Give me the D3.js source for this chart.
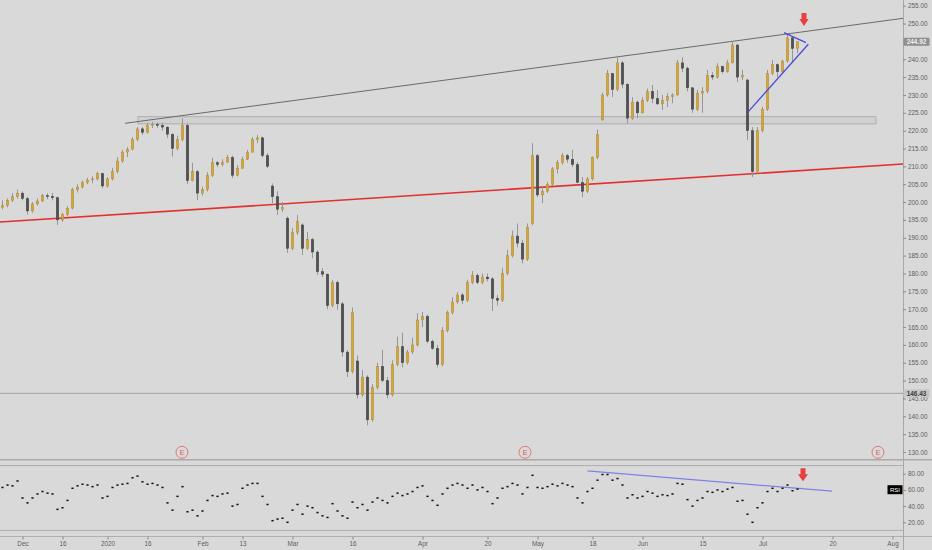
<!DOCTYPE html>
<html><head><meta charset="utf-8">
<script src="https://cdn.jsdelivr.net/npm/d3@7"></script>
<style>html,body{margin:0;padding:0;background:#d9d9d9;}svg{display:block;font-family:"Liberation Sans",Arial,sans-serif;}</style>
</head><body><svg id="c" width="932" height="550"></svg>
<script>
// ---- data (bar index based, as on the original chart) ----
const opens = [
198.5,199,200.5,201.5,202.5,201,197.5,199.5,200.3,201.8,
201.6,201.2,195,196.5,198.3,203.5,204.2,205.5,206.2,206.5,
208,204.5,206.5,208.5,211.5,214,214.8,217.5,220.5,219.5,
221.5,221.8,221.5,221,219,215,217.5,221.5,206,208.5,
202.5,203.5,207.5,211,210.5,211.2,212.5,207.5,209.5,212,
214,217.5,218,213,204.5,201.5,198,195.5,187,191.5,
193.6,187,189.5,186,180.5,179.8,171,177.5,171.5,158,
152.5,155.5,146,151,139,148,154,150,146,154.5,
159.5,155,158,160,167,168,161,159,154.5,164,
169,172,174,172.5,177.5,179.5,177.5,179,178.5,173,
172.5,180,185,190.5,188.5,184,194,213,202,203,
205,209.3,211,213,212,210.5,205.5,203,206.5,212.5,
223,230,236,231.5,239,233,223.5,228,225,228.5,
231,229,227.5,228.5,229.5,230,239,237.5,232,226,
230.5,231,235.5,235,238,236.5,239,244,235,234.2,
220,208.5,220,226,236,238.5,236.5,239.5,246,243];
const highs = [
200.5,201,202.5,203.5,203,201.5,200,201,202.3,202.5,
202.6,201.5,197,198.8,204,205,206,206.8,207.2,208.5,
208.2,207,209.6,212.6,214.6,215.4,218.2,221,221,222.2,
222.5,222.3,222.2,221.2,219.3,218.6,223.5,222,211,209,
204.3,208.4,212.4,211.5,212,213.2,213,210.4,212.7,214.6,
218.2,218.8,218.3,213.7,205.2,203,200,196,192.7,196.4,
194,191.6,190,186.5,181.5,180,178.2,178,172,158.5,
170.5,157,153,151.5,149,155,158.6,151,155.7,162.3,
163.4,158.6,162,168.9,169.2,168.5,161.5,160,165,169.6,
173.4,174.8,174.5,178.2,180.7,180,180,180,179,174,
181.6,186.6,192,194,189.4,194,216.5,213.5,204.3,205.6,
209.8,211.8,213.7,213.5,214.6,211.2,207,207,212.8,220.3,
230.6,237,236.2,241,239.5,233.3,229.4,228.5,229.4,231.8,
232.8,231.4,230,230.5,230.5,239.8,240.6,238,232.2,231.4,
232.2,237,236.4,238.9,238.2,239.8,245,244.2,237,234.5,
221,221,226.7,237,239.8,238.8,239.8,247.3,246.2,245];
const lows = [
198,198.5,200,201,200.5,196.5,197,199,200,200.8,
200.5,193.6,194.5,196,198,202.7,203.8,205,205.3,206,
203.9,204,206,208,211,212.6,214.5,217,218.8,219.2,
220.7,220.8,220,218,212.8,214.5,217,205,205.8,200.5,
201.8,203,207,209.8,210,211,206.7,207.2,209.2,211.8,
213.8,216.5,212.5,209.5,199.7,196.4,197.2,185.8,186.5,190.8,
185.2,186.5,184.3,179.6,179,170,170.5,169.8,156.7,151,
152,145,145.5,137.5,138.5,147.5,149.5,145,145.5,154,
153.7,154.5,157.5,159.5,165,160.5,158.6,153.7,154,163.5,
168.5,171.5,171.5,172,177,177,177,177.8,169.5,171,
172,179.5,184.5,187.3,182.8,183.5,193.5,201.4,199.7,202.5,
204.5,208,210.5,211,209.8,205.3,201.4,202.5,206,212,
222.8,229.5,229.4,231,231.9,222,223,223.5,224.8,228,
227.7,227.2,225.8,226.6,227.7,229.8,236.4,231,225,225.5,
225,230.5,234.2,234.5,236,236.2,238.8,233.6,234.2,217.4,
207,208,219.5,225.5,235.5,235,236,239,239,241.7];
const closes = [
199,200.5,201.5,202.5,201,197.5,199.5,200.3,201.8,201.6,
201.2,195,196.5,198.3,203.5,204.2,205.5,206.2,206.5,208,
204.5,206.5,208.5,211.5,214,214.8,217.5,220.5,219.5,221.5,
221.8,221.5,221,219,215,217.5,221.5,206,208.5,202.5,
203.5,207.5,211,210.5,211.2,212.5,207.5,209.5,212,214,
217.5,218,213,210,201.5,198,198.5,187,191.5,194.5,
187,189.5,186,180.5,179.8,171,177.5,171.5,158,152.5,
169,146,151,139,148,154,150,146,154.5,159.5,
155,158,160,167,168,161,159,154.5,164,169,
172,174,172.5,177.5,179.5,177.5,179,178.5,173,172.5,
180,185,190.5,188.5,184,193,213,202,203,205,
209.3,211,213,212,210.5,205.5,203,206.5,212.5,219,
230,236,231.5,239,233,223.5,228,225,228.5,231,
229,227.5,228.5,229.5,230,239,237.5,232,226,230.5,
231,235.5,235,238,236.5,239,244,235,235.5,220,
208.5,220,226,236,238.5,236.5,239.5,246,243,244.92];
const rsi = [
63,66,65,71,50,44,50,55,58,56,
55,36,38,47,62,65,67,66,64,66,
50,52,63,66,67,68,75,77,70,67,
68,66,63,44,35,52,64,33,35,28,
34,47,53,52,55,56,40,42,62,66,
68,68,52,42,22,24,25,20,35,42,
30,40,38,32,28,26,43,34,28,25,
45,38,42,35,45,50,47,44,52,56,
53,55,58,63,65,52,47,41,55,62,
66,68,66,62,66,60,63,58,43,50,
62,64,68,66,55,63,78,63,62,64,
67,65,68,66,64,50,44,58,62,72,
79,79,72,74,66,50,54,50,52,58,
56,52,54,53,55,68,67,48,40,47,
50,58,57,60,58,61,63,46,47,30,
20,38,44,58,62,58,62,66,59,61];
const timeLabels = ["Dec","16","2020","16","Feb","13","Mar","16","Apr","20","May","18","Jun","15","Jul","20","Aug"];
const timeLabelBars = [4,12,21,29,40,48,58,70,84,97,107,118,128,140,152,166,178];
const priceTicks = [130,135,140,145,150,155,160,165,170,175,180,185,190,195,200,205,210,215,220,225,230,235,240,245,250,255];
const rsiTicks = [20,40,60,80];
const rsiBands = [90,10];
const lastPrice = 244.92;
const markLevel = 146.43;
const earningsBars = [35.9,104.5,175.1];
const zoneBars = [27.1,174.7];
const zonePrices = [221.9,223.9];
const resistanceLine = [[24.5,222.06],[180.1,251.47]];
const supportLine = [[-0.5,194.4],[180.1,210.66]];
const wedgeLower = [[149.04,225.14],[161.16,244.19]];
const wedgeUpper = [[156.3,247.44],[160.7,244.64]];
const rsiTrend = [[117.0,83.4],[165.9,58.4]];
const mainArrow = [160.3,249.3];
const rsiArrow = [160.1,70.7];

// ---- layout ----
const W=932,H=550,AX=903;
const svg=d3.select("#c");
const x=d3.scaleLinear().domain([-0.5,180.1]).range([0,AX]);
const y=d3.scaleLinear().domain([130,255]).range([452,5.7]);
const yr=d3.scaleLinear().domain([20,80]).range([522.3,473.7]);

svg.append("rect").attr("width",W).attr("height",H).attr("fill","#d9d9d9");
const defs=svg.append("defs");
defs.append("clipPath").attr("id","cm").append("rect").attr("x",0).attr("y",0).attr("width",AX).attr("height",459);
defs.append("clipPath").attr("id","cr").append("rect").attr("x",0).attr("y",461).attr("width",AX).attr("height",75);

const main=svg.append("g").attr("clip-path","url(#cm)");
main.append("rect").attr("x",x(zoneBars[0])).attr("width",x(zoneBars[1])-x(zoneBars[0]))
 .attr("y",y(zonePrices[1])).attr("height",y(zonePrices[0])-y(zonePrices[1]))
 .attr("fill","rgba(0,0,0,0.035)").attr("stroke","#a4a4a4").attr("stroke-width",0.8);
main.append("line").attr("x1",0).attr("x2",AX).attr("y1",y(markLevel)).attr("y2",y(markLevel)).attr("stroke","#a2a2a2").attr("stroke-width",1);
const ln=d3.line().x(d=>x(d[0])).y(d=>y(d[1]));
main.append("path").attr("d",ln(supportLine)).attr("stroke","#e2302f").attr("stroke-width",1.6).attr("fill","none");
main.append("path").attr("d",ln(resistanceLine)).attr("stroke","#6a6a6a").attr("stroke-width",1).attr("fill","none");

const bars=d3.range(closes.length).map(i=>({i,o:opens[i],h:highs[i],l:lows[i],c:closes[i]}));
const cg=main.append("g");
cg.selectAll("line.w").data(bars).join("line").attr("class","w")
 .attr("x1",d=>x(d.i)).attr("x2",d=>x(d.i)).attr("y1",d=>y(d.h)).attr("y2",d=>y(d.l))
 .attr("stroke","#969696").attr("stroke-width",1);
cg.selectAll("rect.b").data(bars).join("rect").attr("class","b")
 .attr("x",d=>x(d.i)-1.25).attr("width",2.5)
 .attr("y",d=>y(Math.max(d.o,d.c))).attr("height",d=>Math.max(1,Math.abs(y(d.o)-y(d.c))))
 .attr("fill",d=>d.c>=d.o?"#d3a63c":"#505050")
 .attr("stroke",d=>d.c>=d.o?"#a8852e":"#3a3a3a").attr("stroke-width",0.4);

main.append("path").attr("d",ln(wedgeLower)).attr("stroke","#4b4bdc").attr("stroke-width",1.3).attr("fill","none");
main.append("path").attr("d",ln(wedgeUpper)).attr("stroke","#4b4bdc").attr("stroke-width",1.3).attr("fill","none");

function arrow(g,cx,ty,hw){
  const p=`M${cx-2.5},${ty-13}L${cx+2.5},${ty-13}L${cx+2.5},${ty-7}L${cx+hw},${ty-7}L${cx},${ty}L${cx-hw},${ty-7}L${cx-2.5},${ty-7}Z`;
  g.append("path").attr("d",p).attr("fill","#e8403e");
}
arrow(main,x(mainArrow[0]),y(mainArrow[1]),4.6);

const eg=svg.append("g");
earningsBars.forEach(b=>{
  eg.append("circle").attr("cx",x(b)).attr("cy",452.3).attr("r",6).attr("fill","none").attr("stroke","#e37a7a").attr("stroke-width",1);
  eg.append("text").attr("x",x(b)).attr("y",454.9).attr("text-anchor","middle").attr("font-size",7).attr("fill","#d95c5c").text("E");
});

svg.append("line").attr("x1",0).attr("x2",W).attr("y1",459.8).attr("y2",459.8).attr("stroke","#a9a9a9").attr("stroke-width",1.6);
rsiBands.forEach(v=>svg.append("line").attr("x1",0).attr("x2",AX).attr("y1",yr(v)).attr("y2",yr(v)).attr("stroke","#adadad").attr("stroke-width",1));
svg.append("line").attr("x1",0).attr("x2",W).attr("y1",536.5).attr("y2",536.5).attr("stroke","#b0b0b0").attr("stroke-width",1);

const rg=svg.append("g").attr("clip-path","url(#cr)");
rg.append("path").attr("d",d3.line().x(d=>x(d[0])).y(d=>yr(d[1]))(rsiTrend)).attr("stroke","#8080e6").attr("stroke-width",1.2).attr("fill","none");
rg.selectAll("rect.r").data(rsi).join("rect").attr("class","r")
 .attr("x",(d,i)=>x(i)-1.1).attr("y",d=>yr(d)-0.75).attr("width",2.2).attr("height",1.5).attr("fill","#111");
arrow(rg,x(rsiArrow[0]),yr(rsiArrow[1]),5);

svg.append("line").attr("x1",AX+0.5).attr("x2",AX+0.5).attr("y1",0).attr("y2",H).attr("stroke","#a8a8a8");
function styleAxis(g){
  g.select(".domain").remove();
  g.selectAll("line").attr("stroke","#8a8a8a");
  g.selectAll("text").attr("fill","#5e5e5e").attr("font-size",6.4).attr("font-family","Liberation Sans, Arial, sans-serif");
}
const pa=svg.append("g").attr("transform",`translate(${AX},0)`)
 .call(d3.axisRight(y).tickValues(priceTicks).tickSize(3).tickPadding(2).tickFormat(d=>d.toFixed(2)));
styleAxis(pa);
const ra=svg.append("g").attr("transform",`translate(${AX},0)`)
 .call(d3.axisRight(yr).tickValues(rsiTicks).tickSize(3).tickPadding(2).tickFormat(d=>d.toFixed(2)));
styleAxis(ra);
const ta=svg.append("g").attr("transform","translate(0,536.5)")
 .call(d3.axisBottom(x).tickValues(timeLabelBars).tickSize(3).tickPadding(1.5).tickFormat((d,i)=>timeLabels[i]));
styleAxis(ta);

function priceTag(v,fill,tc){
  const yy=y(v);
  svg.append("rect").attr("x",AX+0.5).attr("y",yy-4).attr("width",26).attr("height",8).attr("fill",fill).attr("rx",1);
  svg.append("text").attr("x",AX+13.5).attr("y",yy+2.3).attr("text-anchor","middle").attr("font-size",6.4).attr("font-weight","bold").attr("fill",tc).text(v.toFixed(2));
}
priceTag(lastPrice,"#8f8f8f","#f2f2f2");
priceTag(markLevel,"#c6c6c6","#3a3a3a");
svg.append("rect").attr("x",887.5).attr("y",485.2).attr("width",15).attr("height",9).attr("fill","#000");
svg.append("text").attr("x",895).attr("y",492).attr("text-anchor","middle").attr("font-size",6).attr("fill","#fff").text("RSI");
</script></body></html>
